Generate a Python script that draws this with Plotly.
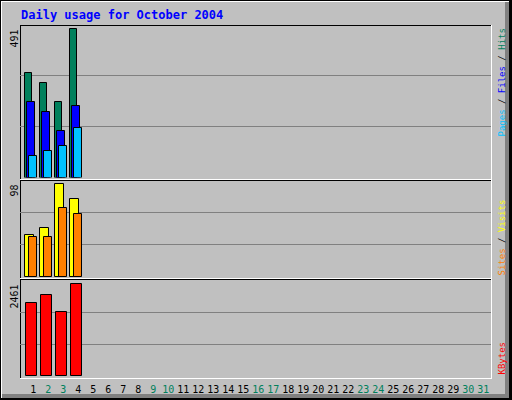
import plotly.graph_objects as go

days = list(range(1, 32))
hits = [344, 314, 251, 491]
files = [251, 215, 155, 238]
pages = [72, 88, 105, 165]
visits = [44, 52, 98, 82]
sites = [42, 42, 73, 67]
kbytes = [1949, 2165, 1707, 2461]
weekend_days = [2, 3, 9, 10, 16, 17, 23, 24, 30, 31]

W, H = 512, 400
BG = "#C0C0C0"
MONO = "DejaVu Sans Mono"


def px(x):
    return x / W


def py(y):
    return 1 - y / H


# panel pixel spans (top, bottom) and the pixel where the max bar ends
panels = [(25, 177.5, 29), (180, 277, 184.3), (280, 376, 284.3)]
maxes = [max(hits), max(visits), max(kbytes)]
ranges = []
for (top, bot, peak), m in zip(panels, maxes):
    ranges.append(m * (bot - top) / (bot - peak))

fig = go.Figure()


def add_bar(vals, color, yax, left, width):
    fig.add_trace(go.Bar(
        x=days[:len(vals)], y=vals, yaxis=yax,
        offset=left, width=width,
        marker=dict(color=color, line=dict(color="black", width=1)),
        showlegend=False,
    ))


add_bar(hits, "#00805C", "y", -0.53, 0.47)
add_bar(files, "#0000FF", "y", -0.40, 0.49)
add_bar(pages, "#00C0FF", "y", -0.27, 0.49)
add_bar(visits, "#FFFF00", "y2", -0.53, 0.56)
add_bar(sites, "#FF8000", "y2", -0.27, 0.49)
add_bar(kbytes, "#FF0000", "y3", -0.47, 0.69)

ticktext = []
for d in days:
    c = "#00805C" if d in weekend_days else "black"
    ticktext.append(f"<span style='color:{c}'>{d}</span>")

x_lo = 1 + (20 - 33.3) / 15
x_hi = 1 + (491 - 33.3) / 15

shapes = [
    dict(type="rect", xref="paper", yref="paper", x0=0, x1=1, y0=0, y1=1,
         fillcolor="black", line_width=0, layer="below"),
    dict(type="rect", xref="paper", yref="paper", x0=px(1), x1=px(509), y0=py(398), y1=py(1),
         fillcolor="white", line_width=0, layer="below"),
    dict(type="rect", xref="paper", yref="paper", x0=px(2), x1=px(509), y0=py(398), y1=py(2),
         fillcolor="#808080", line_width=0, layer="below"),
    dict(type="rect", xref="paper", yref="paper", x0=px(2), x1=px(505), y0=py(394), y1=py(2),
         fillcolor=BG, line_width=0, layer="below"),
]


def hline(y, x0, x1, color):
    shapes.append(dict(type="line", xref="paper", yref="paper", x0=px(x0), x1=px(x1),
                       y0=py(y), y1=py(y), line=dict(color=color, width=1), layer="below"))


def vline(x, y0, y1, color):
    shapes.append(dict(type="line", xref="paper", yref="paper", x0=px(x), x1=px(x),
                       y0=py(y0), y1=py(y1), line=dict(color=color, width=1), layer="below"))


vline(20.5, 25, 378, "black")
hline(25.5, 20, 491, "black")
vline(491.5, 25, 379, "white")
hline(378.5, 20, 492, "white")
hline(179.5, 20, 491, "white")
hline(180.5, 20, 491, "black")
hline(278.5, 20, 491, "white")
hline(279.5, 20, 491, "black")

annotations = [
    dict(text="<b>Daily usage for October 2004</b>", x=px(19), y=py(15), xref="paper", yref="paper",
         xanchor="left", yanchor="middle", showarrow=False, font=dict(family=MONO, size=12, color="#0000FF")),
]
for (top, bot, peak), m in zip(panels, maxes):
    annotations.append(dict(text=str(m), x=px(13.5), y=py(top + 3), xref="paper", yref="paper",
                            xanchor="center", yanchor="top", textangle=-90, showarrow=False,
                            font=dict(family=MONO, size=10, color="black")))

sep = "<span style='color:black'> / </span>"
legends = [
    ("<span style='color:#00C0FF'>Pages</span>" + sep + "<span style='color:#0000FF'>Files</span>"
     + sep + "<span style='color:#00805C'>Hits</span>", 82.5),
    ("<span style='color:#FF8000'>Sites</span>" + sep + "<span style='color:#FFFF00'>Visits</span>", 237.5),
    ("<span style='color:#FF0000'>KBytes</span>", 358.5),
]
for txt, yc in legends:
    annotations.append(dict(text=txt, x=px(501), y=py(yc), xref="paper", yref="paper",
                            xanchor="center", yanchor="middle", textangle=-90, showarrow=False,
                            font=dict(family=MONO, size=9)))

yax_common = dict(showticklabels=False, ticks="", showline=False, zeroline=False,
                  gridcolor="#808080", gridwidth=1, fixedrange=True)

fig.update_layout(
    width=W, height=H,
    margin=dict(l=0, r=0, t=0, b=0),
    paper_bgcolor=BG, plot_bgcolor="rgba(0,0,0,0)",
    barmode="overlay", bargap=0,
    xaxis=dict(domain=[px(20), px(491)], range=[x_lo, x_hi], anchor="y3",
               tickvals=days, ticktext=ticktext, showgrid=False, zeroline=False, showline=False,
               ticks="outside", ticklen=4, tickcolor="rgba(0,0,0,0)", fixedrange=True,
               tickfont=dict(family=MONO, size=10, color="black")),
    yaxis=dict(domain=[py(panels[0][1]), py(panels[0][0])], range=[0, ranges[0]],
               tickvals=[ranges[0] / 3, 2 * ranges[0] / 3], **yax_common),
    yaxis2=dict(domain=[py(panels[1][1]), py(panels[1][0])], range=[0, ranges[1]],
                tickvals=[ranges[1] / 3, 2 * ranges[1] / 3], **yax_common),
    yaxis3=dict(domain=[py(panels[2][1]), py(panels[2][0])], range=[0, ranges[2]],
                tickvals=[ranges[2] / 3, 2 * ranges[2] / 3], **yax_common),
    shapes=shapes,
    annotations=annotations,
)

# page body has a default 8px margin; drop it so the figure fills the window
fig.write_html("out.html", config={"displayModeBar": False},
               post_script="document.body.style.margin='0';document.body.style.overflow='hidden';")
